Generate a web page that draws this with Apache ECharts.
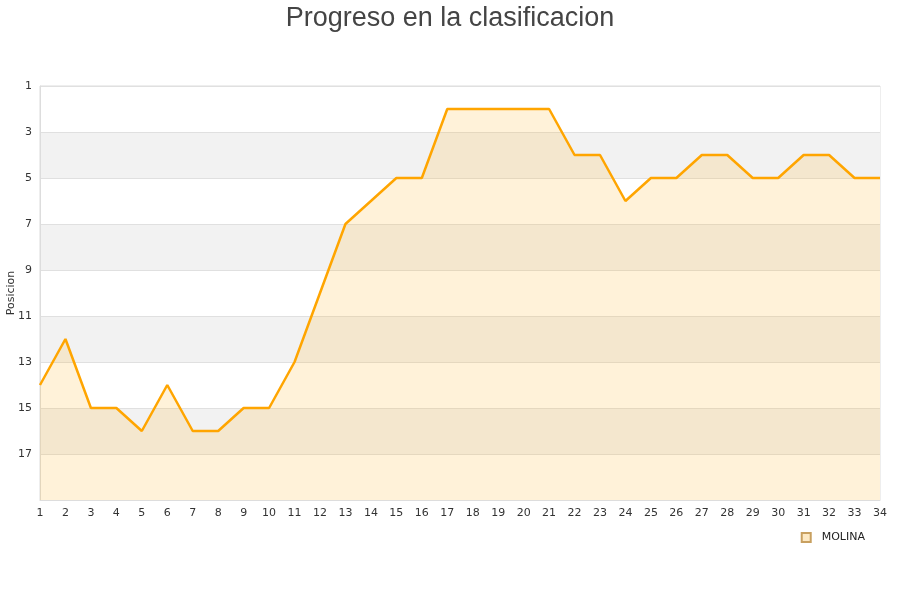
<!DOCTYPE html>
<html><head><meta charset="utf-8">
<script src="https://cdn.jsdelivr.net/npm/echarts@6/dist/echarts.min.js"></script>
<style>html,body{margin:0;padding:0;background:#fff}#c{width:900px;height:600px}</style>
</head><body><div id="c"></div>
<script>
const jornadas = ['1','2','3','4','5','6','7','8','9','10','11','12','13','14','15','16','17','18','19','20','21','22','23','24','25','26','27','28','29','30','31','32','33','34'];
const posiciones = [14,12,15,15,16,14,16,16,15,15,13,10,7,6,5,5,2,2,2,2,2,4,4,6,5,5,4,4,5,5,4,4,5,5];
const equipo = 'MOLINA';
const titulo = 'Progreso en la clasificacion';
const ejeY = 'Posicion';

const chart = echarts.init(document.getElementById('c'));
chart.setOption({
  animation: false,
  title: { text: titulo, left: 'center', top: 0, textStyle: { fontFamily: 'Liberation Sans', fontSize: 27, fontWeight: 'normal', color: '#444' } },
  grid: { left: 40, right: 20, top: 86, bottom: 100, show: true, borderColor: '#ddd', borderWidth: 1, outerBoundsMode: 'none', containLabel: false },
  legend: { data: [{ name: equipo, icon: 'rect' }], right: 30, top: 527, itemWidth: 9, itemHeight: 9,
    textStyle: { fontFamily: 'DejaVu Sans', fontSize: 11, color: '#222', padding: [0, 0, 0, 6] } },
  xAxis: { type: 'category', data: jornadas, boundaryGap: false,
    axisLine: { lineStyle: { color: '#ddd' } }, axisTick: { show: false },
    axisLabel: { color: '#333', fontFamily: 'DejaVu Sans', fontSize: 11, margin: 8 },
    splitLine: { show: false } },
  yAxis: { type: 'value', inverse: true, min: 1, max: 19, interval: 2,
    name: ejeY, nameLocation: 'middle', nameGap: 23, nameRotate: 90, nameMoveOverlap: false,
    nameTextStyle: { color: '#333', fontFamily: 'DejaVu Sans', fontSize: 11 },
    axisLine: { show: true, lineStyle: { color: '#ddd' } }, axisTick: { show: false },
    axisLabel: { color: '#333', fontFamily: 'DejaVu Sans', fontSize: 11, margin: 8,
      formatter: v => v >= 19 ? '' : v },
    splitLine: { show: true, lineStyle: { color: '#e0e0e0' } },
    splitArea: { show: true, areaStyle: { color: ['#ffffff', '#f2f2f2'] } } },
  series: [{ name: equipo, type: 'line', data: posiciones, symbol: 'none',
    lineStyle: { color: '#ffa500', width: 2.5 },
    itemStyle: { color: '#fde9c4', borderColor: '#c8a060', borderWidth: 1 },
    areaStyle: { color: 'rgba(255,184,40,0.25)', origin: 'end' } }]
});
</script></body></html>
